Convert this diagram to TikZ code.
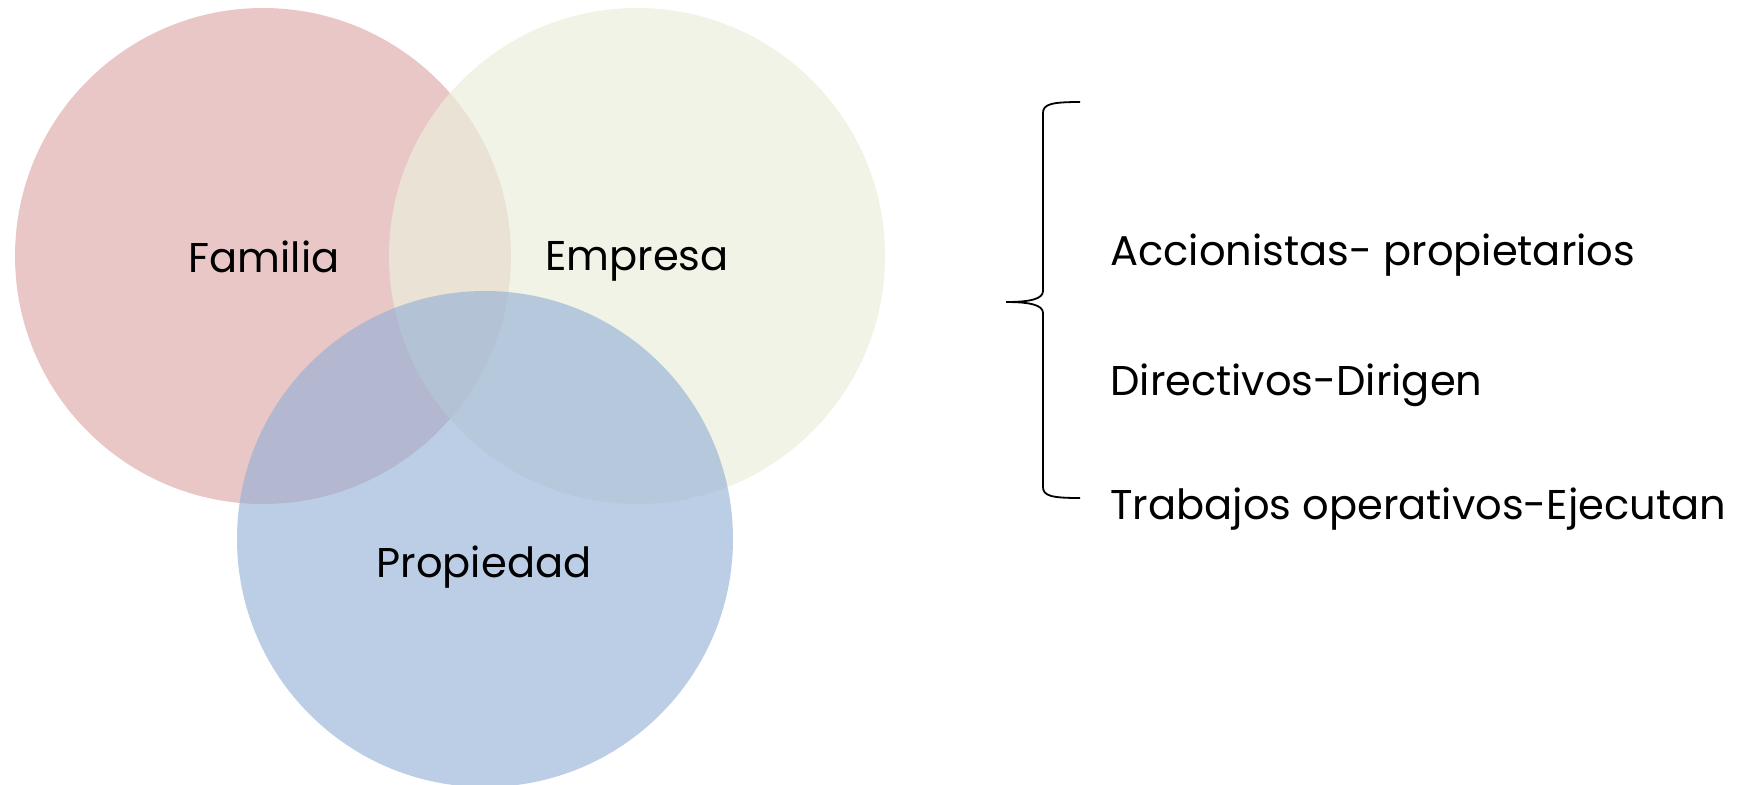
\documentclass[tikz,border=0pt]{standalone}
\usepackage{fontspec}
\setmainfont{Poppins}
\usepackage{tikz}
\usetikzlibrary{calc,backgrounds}
\definecolor{famcol}{HTML}{E9C7C7}
\definecolor{empcol}{HTML}{EAEEDB}
\definecolor{propcol}{HTML}{8FADD5}

\begin{document}
\begin{tikzpicture}[x=0.5pt,y=-0.5pt,
  venn/.style={circle,minimum size=248pt,inner sep=0pt,draw=none,text opacity=1},
  lbl/.style={anchor=base,inner sep=0pt,font=\fontsize{20.8}{25}\selectfont},
  item/.style={anchor=base west,inner sep=0pt,font=\fontsize{20.8}{25}\selectfont},
  bracestyle/.style={draw=black,line width=0.9pt}]
\useasboundingbox (0,0) rectangle (1753,784);
\node[venn,fill=famcol] (fam) at (263,256) {};
\node[venn,fill=empcol,fill opacity=0.7] (emp) at (637,256) {};
\node[lbl] (famlbl) at (264,272) {Familia};
\node[lbl] (emplbl) at (637,270) {Empresa};
\node[venn,fill=propcol,fill opacity=0.6] (prop) at (485,539) {};
\node[lbl] (proplbl) at (484,577) {Propiedad};
\coordinate (btop) at (1080,102);
\coordinate (btip) at (1006,302);
\coordinate (bbot) at (1080,498);
\draw[bracestyle] (btop) .. controls (1052,102) and (1043,104) .. (1043,113)
  -- (1043,291) .. controls (1043,299) and (1030,302) .. (btip)
  .. controls (1030,302) and (1043,305) .. (1043,313)
  -- (1043,487) .. controls (1043,496) and (1052,498) .. (bbot);
\node[item] (acc) at (1110,265) {Accionistas- propietarios};
\node[item] (dir) at (1110,395) {Directivos-Dirigen};
\node[item] (trab) at (1110,519) {Trabajos operativos-Ejecutan};
\end{tikzpicture}
\end{document}
